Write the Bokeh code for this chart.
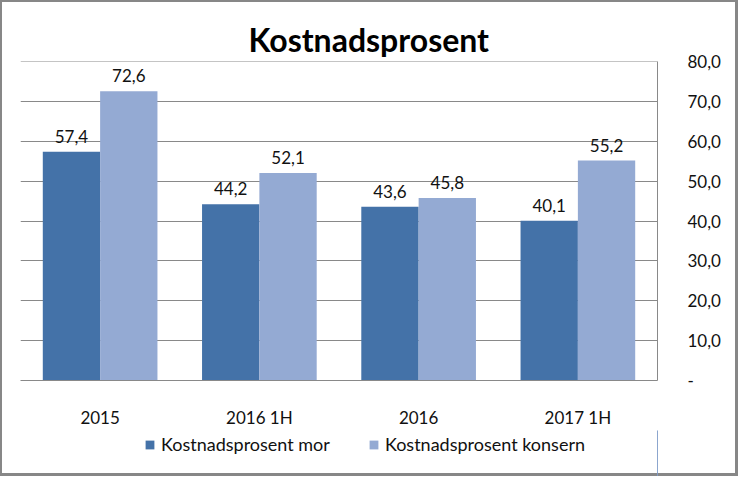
from bokeh.plotting import figure
from bokeh.models import (ColumnDataSource, FactorRange, Range1d, FixedTicker,
                          CustomJSTickFormatter, LabelSet, Legend, LegendItem)
from bokeh.layouts import column
from bokeh.core.properties import value
from bokeh.transform import dodge
from bokeh.embed import file_html
from bokeh.resources import INLINE

categories = ["2015", "2016 1H", "2016", "2017 1H"]
mor = [57.4, 44.2, 43.6, 40.1]
konsern = [72.6, 52.1, 45.8, 55.2]
series_names = ["Kostnadsprosent mor", "Kostnadsprosent konsern"]
y_ticks = [0, 10, 20, 30, 40, 50, 60, 70, 80]

FONT = "Lato"
DARK = "#4472A8"
LIGHT = "#94AAD3"
TXT = "#111111"
FRAME = "#878787"

src = ColumnDataSource(dict(
    cat=categories, mor=mor, konsern=konsern,
    mor_lbl=[f"{v:.1f}".replace(".", ",") for v in mor],
    kon_lbl=[f"{v:.1f}".replace(".", ",") for v in konsern],
))

p = figure(width=738, height=430, x_range=FactorRange(*categories),
           y_range=Range1d(0, 80.05), output_backend="svg", toolbar_location=None,
           y_axis_location="right", min_border_left=20, min_border_right=81,
           min_border_top=61, min_border_bottom=36)
p.border_fill_color = None
p.styles = {"box-shadow": f"inset 2px 2px 0 0 {FRAME}, inset -3px 0 0 0 {FRAME}",
            "background-color": "white"}

r1 = p.vbar(x=dodge("cat", -0.18, range=p.x_range), top="mor", width=0.36,
            source=src, color=DARK, line_color=None)
r2 = p.vbar(x=dodge("cat", 0.18, range=p.x_range), top="konsern", width=0.36,
            source=src, color=LIGHT, line_color=None)

for xo, col in ((-0.18, "mor"), (0.18, "konsern")):
    lbl = "mor_lbl" if col == "mor" else "kon_lbl"
    p.add_layout(LabelSet(x=dodge("cat", xo, range=p.x_range), y=col, text=lbl,
                          source=src, y_offset=9, text_align="center",
                          text_baseline="bottom", text_font=value(FONT),
                          text_font_size=value("17px"), text_color=TXT))

p.title.text = "Kostnadsprosent"
p.title.text_font = FONT
p.title.text_font_size = "32px"
p.title.text_font_style = "bold"
p.title.text_color = "#000000"
p.title.align = "left"
p.title.offset = 228
p.title.standoff = 6

p.outline_line_color = None
p.xgrid.grid_line_color = None
p.ygrid.grid_line_color = "#898989"
p.ygrid.ticker = FixedTicker(ticks=y_ticks)

ya = p.yaxis[0]
ya.ticker = FixedTicker(ticks=y_ticks)
ya.formatter = CustomJSTickFormatter(code="return tick == 0 ? '-' : tick.toFixed(1).replace('.', ',');")
ya.major_tick_line_color = None
ya.minor_tick_line_color = None
ya.axis_line_color = "#898989"
ya.major_label_text_font = FONT
ya.major_label_text_font_size = "17px"
ya.major_label_text_color = TXT
ya.major_label_standoff = 24

xa = p.xaxis[0]
xa.major_tick_line_color = None
xa.minor_tick_line_color = None
xa.axis_line_color = "#898989"
xa.major_label_text_font = FONT
xa.major_label_text_font_size = "17px"
xa.major_label_text_color = TXT
xa.major_label_standoff = 20

# legend strip (its proxy bars sit outside the visible 0..1 range)
p2 = figure(width=738, height=46, x_range=Range1d(0, 1), y_range=Range1d(0, 1),
            output_backend="svg", toolbar_location=None,
            x_axis_location=None, y_axis_location=None,
            min_border_left=0, min_border_right=0, min_border_top=0,
            min_border_bottom=0)
p2.border_fill_color = None
p2.background_fill_color = None
p2.grid.visible = False
p2.outline_line_color = None
d1 = p2.vbar(x="mor", top="mor", width=0.1, source=src, color=DARK, line_color=None)
d2 = p2.vbar(x="konsern", top="konsern", width=0.1, source=src, color=LIGHT, line_color=None)
legend = Legend(items=[LegendItem(label=series_names[0], renderers=[d1]),
                       LegendItem(label=series_names[1], renderers=[d2])],
                orientation="horizontal", location=(124, 21),
                label_text_font=FONT, label_text_font_size="18px",
                label_text_color=TXT, glyph_width=11, glyph_height=11,
                spacing=38, padding=4, margin=0, border_line_color=None,
                background_fill_alpha=0, label_standoff=6)
p2.add_layout(legend)

layout = column(p, p2, spacing=0,
                styles={"min-width": "738px", "min-height": "476px",
                        "box-sizing": "border-box",
                        "box-shadow": f"inset 2px 2px 0 0 {FRAME}, inset -3px -3px 0 0 {FRAME}"})

open("out.html", "w").write(file_html(layout, INLINE))
